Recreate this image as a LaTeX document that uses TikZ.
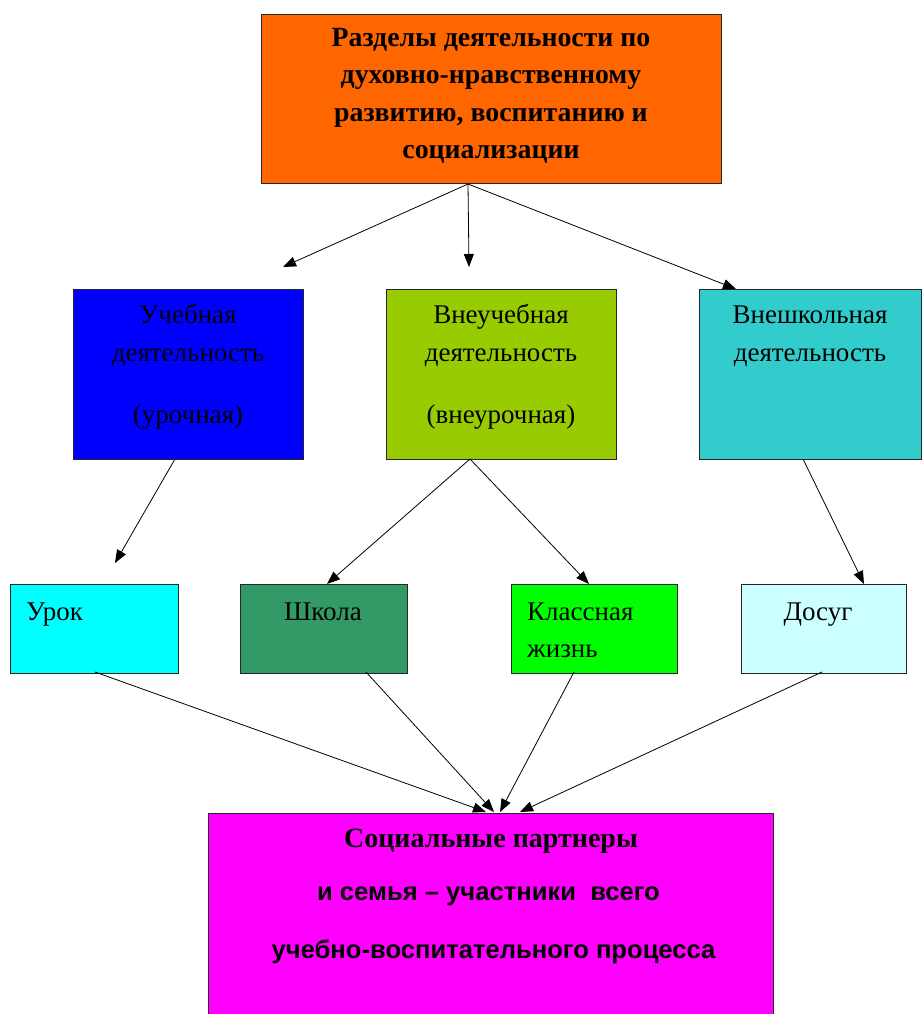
\documentclass[tikz,border=0pt]{standalone}
\usepackage{fontspec}
\setmainfont{Liberation Serif}
\newfontfamily\sansf{Liberation Sans}
\usetikzlibrary{arrows.meta}
\definecolor{cOrange}{HTML}{FF6600}
\definecolor{cBlue}{HTML}{0000FF}
\definecolor{cOlive}{HTML}{99CC00}
\definecolor{cTeal}{HTML}{33CCCC}
\definecolor{cCyan}{HTML}{00FFFF}
\definecolor{cSea}{HTML}{339966}
\definecolor{cLime}{HTML}{00FF00}
\definecolor{cPale}{HTML}{CCFFFF}
\definecolor{cMag}{HTML}{FF00FF}
\tikzset{
  box/.style={draw=black!85, line width=0.9pt, inner sep=0pt, outer sep=0pt, anchor=north west},
  conn/.style={draw=black, line width=0.8pt, -{Triangle[length=13pt,width=10pt]}},
  mtxt/.style={inner sep=0pt, anchor=base, font=\fontsize{27}{30}\selectfont},
  ltxt/.style={inner sep=0pt, anchor=base west, font=\fontsize{27}{30}\selectfont},
  btxt/.style={inner sep=0pt, anchor=base, font=\bfseries\fontsize{28}{30}\selectfont},
  stxt/.style={inner sep=0pt, anchor=base, font=\sansf\bfseries\fontsize{25.6}{30}\selectfont},
}
\begin{document}
\begin{tikzpicture}[x=1pt,y=-1pt]
\useasboundingbox (0,0) rectangle (923,1014);
% boxes
\node[box, fill=cOrange, minimum width=460pt, minimum height=169pt] (top) at (261,14) {};
\node[box, fill=cBlue, minimum width=230pt, minimum height=170pt] (ucheb) at (73,289) {};
\node[box, fill=cOlive, minimum width=230pt, minimum height=170pt] (vneuch) at (386,289) {};
\node[box, fill=cTeal, minimum width=222.5pt, minimum height=170pt] (vneshk) at (699,289) {};
\node[box, fill=cCyan, minimum width=168pt, minimum height=89pt] (urok) at (10,584) {};
\node[box, fill=cSea, minimum width=167pt, minimum height=89pt] (shkola) at (240,584) {};
\node[box, fill=cLime, minimum width=166pt, minimum height=89pt] (klass) at (511,584) {};
\node[box, fill=cPale, minimum width=165pt, minimum height=89pt] (dosug) at (741,584) {};
\node[box, fill=cMag, minimum width=565pt, minimum height=205pt] (partn) at (208,813) {};
% texts
\node[inner sep=0pt, align=center, font=\bfseries\fontsize{27.8}{37.5}\selectfont] (toptxt) at (491,96)
  {Разделы деятельности по\\духовно-нравственному\\развитию, воспитанию и\\социализации};
\node[mtxt] (u1) at (188,323) {Учебная};
\node[mtxt] (u2) at (188,361) {деятельность};
\node[mtxt] (u3) at (188,423) {(урочная)};
\node[mtxt] (v1) at (501,323) {Внеучебная};
\node[mtxt] (v2) at (501,361) {деятельность};
\node[mtxt] (v3) at (501,423) {(внеурочная)};
\node[mtxt] (w1) at (810,323) {Внешкольная};
\node[mtxt] (w2) at (810,361) {деятельность};
\node[ltxt] (t1) at (26,620) {Урок};
\node[mtxt] (t2) at (323,620) {Школа};
\node[ltxt] (t3) at (527,620) {Классная};
\node[ltxt] (t4) at (527,657) {жизнь};
\node[mtxt] (t5) at (818,620) {Досуг};
\node[btxt] (p1) at (491,847) {Социальные партнеры};
\node[stxt] (p2) at (488.5,900) {и семья – участники \ всего};
\node[stxt] (p3) at (493.5,958) {учебно-воспитательного процесса};
% connector points
\coordinate (s0) at (468,184);
\coordinate (e1) at (283,267);
\coordinate (e2) at (469,267);
\coordinate (e3) at (736,289);
\coordinate (su) at (175,459);
\coordinate (eu) at (115,563);
\coordinate (sv) at (470,459);
\coordinate (ev1) at (327,584);
\coordinate (ev2) at (589,584);
\coordinate (sw) at (803,459);
\coordinate (ew) at (864,584);
\coordinate (b1) at (95,672);
\coordinate (b2) at (366,672);
\coordinate (b3) at (574,672);
\coordinate (b4) at (822,672);
\coordinate (f1) at (486,812);
\coordinate (f2) at (494,812);
\coordinate (f3) at (500,812);
\coordinate (f4) at (520,812);
% connectors
\draw[conn] (s0) -- (e1);
\draw[conn] (s0) -- (e2);
\draw[conn] (s0) -- (e3);
\draw[conn] (su) -- (eu);
\draw[conn] (sv) -- (ev1);
\draw[conn] (sv) -- (ev2);
\draw[conn] (sw) -- (ew);
\draw[conn] (b1) -- (f1);
\draw[conn] (b2) -- (f2);
\draw[conn] (b3) -- (f3);
\draw[conn] (b4) -- (f4);
\end{tikzpicture}
\end{document}
